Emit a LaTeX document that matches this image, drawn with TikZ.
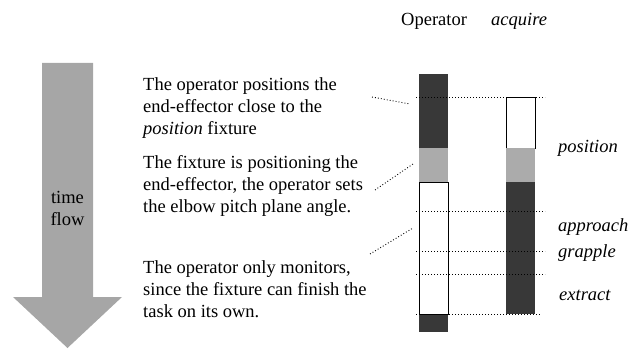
\documentclass[tikz,border=0pt]{standalone}
\usepackage{fontspec}
\setmainfont{Liberation Serif}
\newfontfamily\figserif{Liberation Serif}
\usetikzlibrary{positioning}
\usepackage{xcolor}
\definecolor{darkbar}{HTML}{383838}
\definecolor{midbar}{HTML}{ABABAB}
\definecolor{flowgray}{HTML}{A6A6A6}

\begin{document}
\begin{tikzpicture}[x=1pt,y=-1pt,
    every node/.style={font=\figserif\fontsize{18.5}{22}\selectfont, inner sep=0pt},
    phase/.style={anchor=base west, font=\figserif\fontsize{18.5}{22}\selectfont\itshape},
    leader/.style={dash pattern=on 0.9pt off 2.1pt, line width=0.9pt},
    outline/.style={draw=black, line width=0.9pt, fill=white}]
    \useasboundingbox (0,0) rectangle (642,350);
    % Zeitpfeil
    \fill[flowgray] (42,63) -- (93,63) -- (93,297) -- (122,297) -- (67.5,348) -- (13,297) -- (42,297) -- cycle;
    \node[anchor=base, align=center] (flow) at (67.5,225) {time\\flow};
    % Operator
    \fill[darkbar] (419,74) rectangle (448,148);
    \fill[midbar] (419,148) rectangle (448,182);
    \fill[darkbar] (419,314) rectangle (448,332);
    \draw[outline] (419,182) rectangle (448,314);
    % acquire
    \draw[outline] (506,97) rectangle (535,148);
    \fill[midbar] (506,148) rectangle (535,182);
    \fill[darkbar] (506,182) rectangle (535,314);
    % Hilfslinien
    \draw[leader] (416,97) -- (545,97);
    \draw[leader] (416,211) -- (545,211);
    \draw[leader] (416,251) -- (545,251);
    \draw[leader] (416,274) -- (545,274);
    \draw[leader] (416,314) -- (540,314);
    % Kopfzeile
    \node[anchor=base west] (op) at (401,26) {Operator};
    \node[phase] (acq) at (491,26) {acquire};
    % Phasen
    \node[phase] (pos) at (558,152) {position};
    \node[phase] (appr) at (558,231) {approach};
    \node[phase] (grap) at (558,257) {grapple};
    \node[phase] (extr) at (559,300) {extract};
    % Beschreibungen
    \node[anchor=base west, align=left] (txta) at (143,135) {The operator positions the\\end-effector close to the\\\textit{position} fixture};
    \node[anchor=base west, align=left] (txtb) at (143,212) {The fixture is positioning the\\end-effector, the operator sets\\the elbow pitch plane angle.};
    \node[anchor=base west, align=left] (txtc) at (143,317) {The operator only monitors,\\since the fixture can finish the\\task on its own.};
    % Zuordnung
    \coordinate (la) at (372,97);
    \coordinate (lb) at (375,190);
    \coordinate (lc) at (370,254);
    \coordinate (ra) at (410,104);
    \coordinate (rb) at (413,164);
    \coordinate (rc) at (413,228);
    \draw[leader] (la) -- (ra);
    \draw[leader] (lb) -- (rb);
    \draw[leader] (lc) -- (rc);
\end{tikzpicture}
\end{document}
